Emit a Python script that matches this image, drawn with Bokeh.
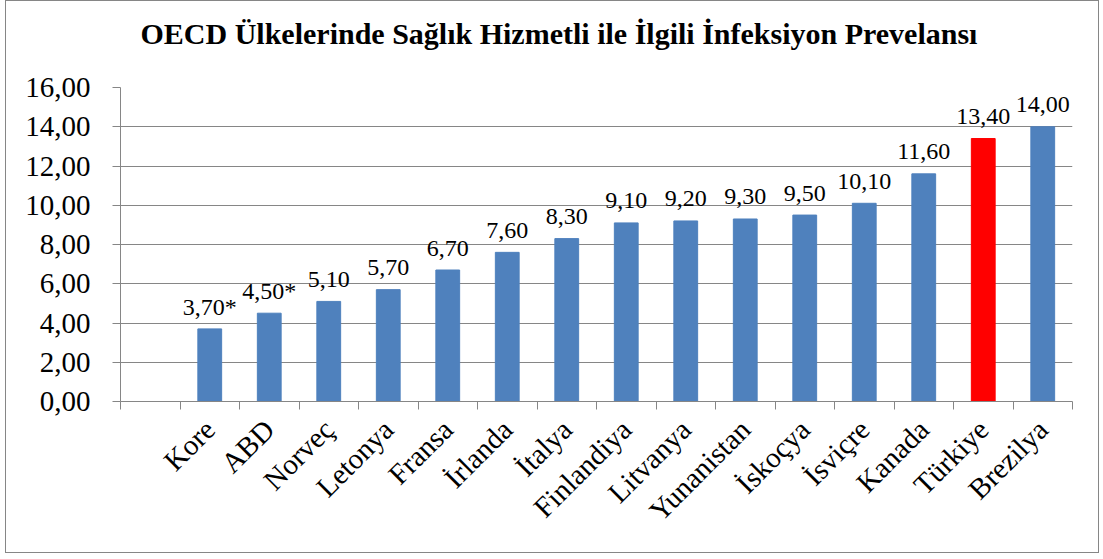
import math
from bokeh.plotting import figure
from bokeh.models import ColumnDataSource, Range1d, FixedTicker
from bokeh.embed import file_html
from bokeh.resources import INLINE

title_text = "OECD Ülkelerinde  Sağlık Hizmetli ile İlgili İnfeksiyon Prevelansı"
countries = ["Kore", "ABD", "Norveç", "Letonya", "Fransa", "İrlanda", "İtalya", "Finlandiya",
             "Litvanya", "Yunanistan", "İskoçya", "İsviçre", "Kanada", "Türkiye", "Brezilya"]
values = [3.7, 4.5, 5.1, 5.7, 6.7, 7.6, 8.3, 9.1, 9.2, 9.3, 9.5, 10.1, 11.6, 13.4, 14.0]
value_labels = ["3,70*", "4,50*", "5,10", "5,70", "6,70", "7,60", "8,30", "9,10",
                "9,20", "9,30", "9,50", "10,10", "11,60", "13,40", "14,00"]
highlight = "Türkiye"
y_ticks = [0, 2, 4, 6, 8, 10, 12, 14, 16]

BLUE = "#4F81BD"
RED = "#FF0000"
GRAY = "#868686"
FONT = "Liberation Serif"

n_slots = len(countries) + 1  # one empty slot before the first country
positions = [i + 1.5 for i in range(len(countries))]
colors = [RED if c == highlight else BLUE for c in countries]

src = ColumnDataSource(dict(x=positions, top=values, label=value_labels, color=colors, name=countries))

p = figure(width=1094, height=553, output_backend="svg", toolbar_location=None,
           x_range=Range1d(0, n_slots), y_range=Range1d(0, 16),
           min_border_left=114, min_border_right=28, min_border_top=86, min_border_bottom=153)
p.styles = {"border": f"1px solid {GRAY}", "box-sizing": "border-box", "margin-left": "5px"}
p.outline_line_color = None
p.background_fill_color = "white"
p.border_fill_color = "white"

p.title.text = title_text
p.title.text_font = FONT
p.title.text_font_size = "30px"
p.title.text_font_style = "bold"
p.title.text_color = "black"
p.title.align = "left"
p.title.vertical_align = "top"
p.title.offset = 20
p.title.padding = (0, 0, 0, 20)
p.title.standoff = 31

p.vbar(x="x", top="top", width=0.4, color="color", source=src)
p.text(x="x", y="top", text="label", source=src, text_align="center", text_baseline="alphabetic",
       y_offset=-22, text_font={"value": FONT}, text_font_size="24px", text_color="black")

# y axis
p.yaxis.ticker = FixedTicker(ticks=y_ticks)
p.yaxis.major_label_overrides = {t: f"{t:.2f}".replace(".", ",") for t in y_ticks}
p.yaxis.major_label_text_font = FONT
p.yaxis.major_label_text_font_size = "29px"
p.yaxis.major_label_text_color = "black"
p.yaxis.major_tick_out = 8
p.yaxis.major_tick_in = 0
p.yaxis.minor_tick_line_color = None
p.yaxis.axis_line_color = GRAY
p.yaxis.major_tick_line_color = GRAY
p.yaxis.major_label_standoff = 22

# x axis
p.xaxis.ticker = FixedTicker(ticks=positions, minor_ticks=list(range(n_slots + 1)))
p.xaxis.major_label_overrides = {x: c for x, c in zip(positions, countries)}
p.xaxis.major_label_orientation = math.pi / 4
p.xaxis.major_label_text_font = FONT
p.xaxis.major_label_text_font_size = "29px"
p.xaxis.major_label_text_color = "black"
p.xaxis.major_tick_line_color = None
p.xaxis.major_tick_out = 0
p.xaxis.major_tick_in = 0
p.xaxis.minor_tick_out = 8
p.xaxis.minor_tick_in = 0
p.xaxis.minor_tick_line_color = GRAY
p.xaxis.axis_line_color = GRAY
p.xaxis.major_label_standoff = 15

p.xgrid.grid_line_color = None
p.ygrid.grid_line_color = GRAY
p.ygrid.ticker = FixedTicker(ticks=y_ticks)

open("out.html", "w").write(file_html(p, INLINE))
